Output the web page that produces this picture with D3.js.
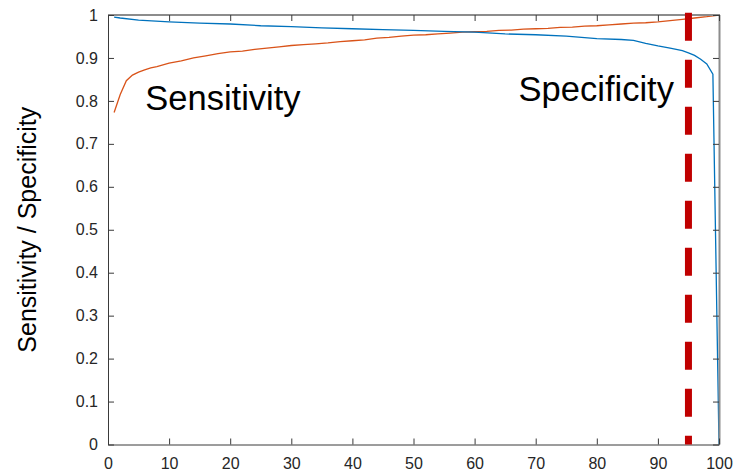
<!DOCTYPE html>
<html>
<head>
<meta charset="utf-8">
<script src="https://cdn.jsdelivr.net/npm/d3@7"></script>
<style>
  html, body { margin: 0; padding: 0; background: #fff; }
  svg { display: block; font-family: "Liberation Sans", Arial, Helvetica, sans-serif; }
</style>
</head>
<body>
<svg id="chart" width="736" height="474"></svg>
<script>
// Threshold sweep (percent) against sensitivity and specificity
const sensX = [1, 2, 3, 4, 5, 6, 7, 8, 10, 12, 14, 16, 18, 20, 22, 24, 26, 28, 30, 32, 34, 36, 38, 40,
  42, 44, 46, 48, 50, 52, 54, 56, 58, 60, 62, 64, 66, 68, 70, 72, 74, 76, 78, 80, 82, 84, 86, 88,
  90, 92, 94, 96, 98, 100];
const sensitivity = [0.773, 0.815, 0.847, 0.860, 0.867, 0.872, 0.877, 0.880, 0.888, 0.893, 0.900,
  0.905, 0.910, 0.914, 0.916, 0.920, 0.923, 0.926, 0.929, 0.931, 0.933, 0.935, 0.938, 0.940,
  0.942, 0.946, 0.948, 0.951, 0.953, 0.954, 0.956, 0.958, 0.960, 0.961, 0.962, 0.964, 0.965,
  0.967, 0.968, 0.969, 0.971, 0.972, 0.974, 0.975, 0.977, 0.979, 0.981, 0.982, 0.984, 0.987,
  0.990, 0.993, 0.996, 1.000];

const specX = [1, 2, 5, 10, 15, 20, 25, 30, 35, 40, 45, 50, 55, 60, 65, 70, 75, 80, 84, 86, 88, 90,
  92, 94, 95, 96, 97, 98, 99, 100];
const specificity = [0.995, 0.993, 0.988, 0.984, 0.981, 0.979, 0.975, 0.973, 0.970, 0.968, 0.966,
  0.964, 0.962, 0.960, 0.956, 0.954, 0.951, 0.945, 0.943, 0.941, 0.934, 0.928, 0.923, 0.917,
  0.912, 0.906, 0.897, 0.886, 0.862, 0.000];

const cutoff = 95;
const xTicks = [0, 10, 20, 30, 40, 50, 60, 70, 80, 90, 100];
const yTicks = [0, 0.1, 0.2, 0.3, 0.4, 0.5, 0.6, 0.7, 0.8, 0.9, 1];
const yLabel = "Sensitivity / Specificity";
const curveLabels = [
  { text: "Sensitivity", x: 6.1, y: 0.779 },
  { text: "Specificity", x: 67.2, y: 0.799 }
];

const svg = d3.select("#chart");
const plotLeft = 108, plotRight = 719, plotTop = 15, plotBottom = 444.5;

const x = d3.scaleLinear().domain([0, 100]).range([plotLeft, plotRight]);
const y = d3.scaleLinear().domain([0, 1]).range([plotBottom, plotTop]);

const tickColor = "#3a3a3a";
const boxColor = "#8c8c8c";

// curves
const line = d3.line().x(d => x(d[0])).y(d => y(d[1]));
svg.append("path")
  .datum(sensX.map((v, i) => [v, sensitivity[i]]))
  .attr("d", line).attr("fill", "none")
  .attr("stroke", "#D95319").attr("stroke-width", 1.3);
svg.append("path")
  .datum(specX.map((v, i) => [v, specificity[i]]))
  .attr("d", line).attr("fill", "none")
  .attr("stroke", "#0072BD").attr("stroke-width", 1.3);

// box: top and right edges
svg.append("line").attr("x1", plotLeft).attr("x2", plotRight + 1).attr("y1", plotTop).attr("y2", plotTop)
  .attr("stroke", boxColor).attr("stroke-width", 2);
svg.append("line").attr("x1", plotRight + 0.5).attr("x2", plotRight + 0.5).attr("y1", plotTop).attr("y2", plotBottom)
  .attr("stroke", boxColor).attr("stroke-width", 2);

// bottom axis with inward ticks
const xAxis = svg.append("g").attr("transform", `translate(0,${plotBottom})`)
  .call(d3.axisBottom(x).tickValues(xTicks).tickSizeInner(-6).tickSizeOuter(0).tickPadding(13));
xAxis.select(".domain").attr("stroke", tickColor);
xAxis.selectAll(".tick line").attr("stroke", tickColor);
xAxis.selectAll(".tick text").attr("fill", "#262626").attr("font-size", 16)
  .attr("font-family", "Liberation Sans, Arial, sans-serif");

// top ticks
svg.append("g").attr("transform", `translate(0,${plotTop})`)
  .call(d3.axisTop(x).tickValues(xTicks).tickSizeInner(-6).tickSizeOuter(0).tickFormat(""))
  .call(g => g.select(".domain").remove())
  .selectAll(".tick line").attr("stroke", tickColor);

// left axis
const yAxis = svg.append("g").attr("transform", `translate(${plotLeft},0)`)
  .call(d3.axisLeft(y).tickValues(yTicks).tickSizeInner(-6).tickSizeOuter(0).tickPadding(10)
    .tickFormat(d => d3.format("~g")(d)));
yAxis.select(".domain").attr("stroke", tickColor);
yAxis.selectAll(".tick line").attr("stroke", tickColor);
yAxis.selectAll(".tick text").attr("fill", "#262626").attr("font-size", 16)
  .attr("font-family", "Liberation Sans, Arial, sans-serif");

// right ticks
svg.append("g").attr("transform", `translate(${plotRight},0)`)
  .call(d3.axisRight(y).tickValues(yTicks).tickSizeInner(-6).tickSizeOuter(0).tickFormat(""))
  .call(g => g.select(".domain").remove())
  .selectAll(".tick line").attr("stroke", tickColor);

// cutoff marker
svg.append("line")
  .attr("x1", x(cutoff)).attr("x2", x(cutoff))
  .attr("y1", y(1.005)).attr("y2", y(0))
  .attr("stroke", "#C00000").attr("stroke-width", 7)
  .attr("stroke-dasharray", "28 19");

// curve annotations
svg.selectAll("text.curve-label").data(curveLabels).enter().append("text")
  .attr("class", "curve-label")
  .attr("x", d => x(d.x)).attr("y", d => y(d.y))
  .attr("font-size", 34.5).attr("fill", "#000")
  .text(d => d.text);

// y-axis title
svg.append("text")
  .attr("transform", `translate(36,${(plotTop + plotBottom) / 2}) rotate(-90)`)
  .attr("text-anchor", "middle")
  .attr("font-size", 25).attr("fill", "#000")
  .text(yLabel);
</script>
</body>
</html>
